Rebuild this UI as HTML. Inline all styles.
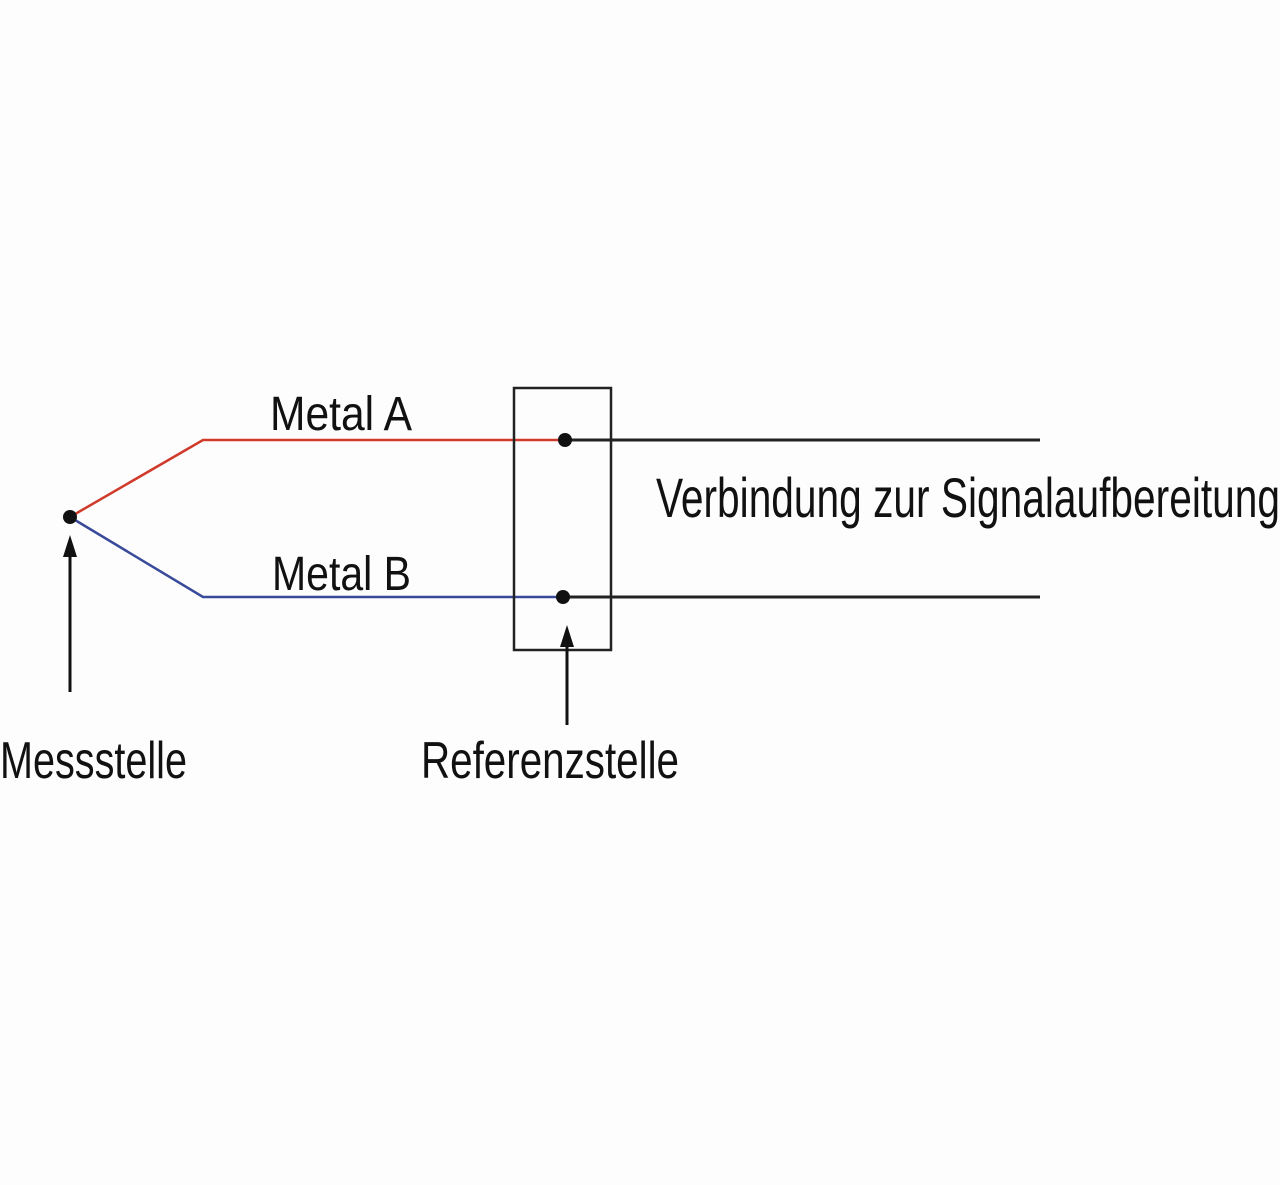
<!DOCTYPE html>
<html><head><meta charset="utf-8"><style>
html,body{margin:0;padding:0;background:#fdfdfd;}
svg{display:block;}
text{font-family:"Liberation Sans",sans-serif;fill:#111;}
</style></head><body>
<svg width="1280" height="1185" viewBox="0 0 1280 1185" xmlns="http://www.w3.org/2000/svg">
<rect width="1280" height="1185" fill="#fdfdfd"/>
<polyline points="70,517 203,440 565,440" fill="none" stroke="#d03a2a" stroke-width="2.5"/>
<polyline points="70,517 203,597 563,597" fill="none" stroke="#3a4a9a" stroke-width="2.5"/>
<line x1="565" y1="440" x2="1040" y2="440" stroke="#222" stroke-width="3"/>
<line x1="563" y1="597" x2="1040" y2="597" stroke="#222" stroke-width="3"/>
<rect x="514" y="388" width="97" height="262" fill="none" stroke="#222" stroke-width="2.5"/>
<circle cx="70" cy="517" r="7" fill="#111"/>
<circle cx="565" cy="440" r="7" fill="#111"/>
<circle cx="563" cy="597" r="7" fill="#111"/>
<line x1="70" y1="692" x2="70" y2="550" stroke="#111" stroke-width="3"/>
<polygon points="70,535 63,557 77,557" fill="#111"/>
<line x1="567" y1="725" x2="567" y2="640" stroke="#111" stroke-width="3"/>
<polygon points="567,625 560,647 574,647" fill="#111"/>
<text x="270" y="430" font-size="48" textLength="142" lengthAdjust="spacingAndGlyphs">Metal A</text>
<text x="272" y="590" font-size="48" textLength="139" lengthAdjust="spacingAndGlyphs">Metal B</text>
<text x="656" y="517" font-size="56" textLength="624" lengthAdjust="spacingAndGlyphs">Verbindung zur Signalaufbereitung</text>
<text x="0" y="778" font-size="52" textLength="187" lengthAdjust="spacingAndGlyphs">Messstelle</text>
<text x="421" y="778" font-size="52" textLength="258" lengthAdjust="spacingAndGlyphs">Referenzstelle</text>
</svg>
</body></html>
